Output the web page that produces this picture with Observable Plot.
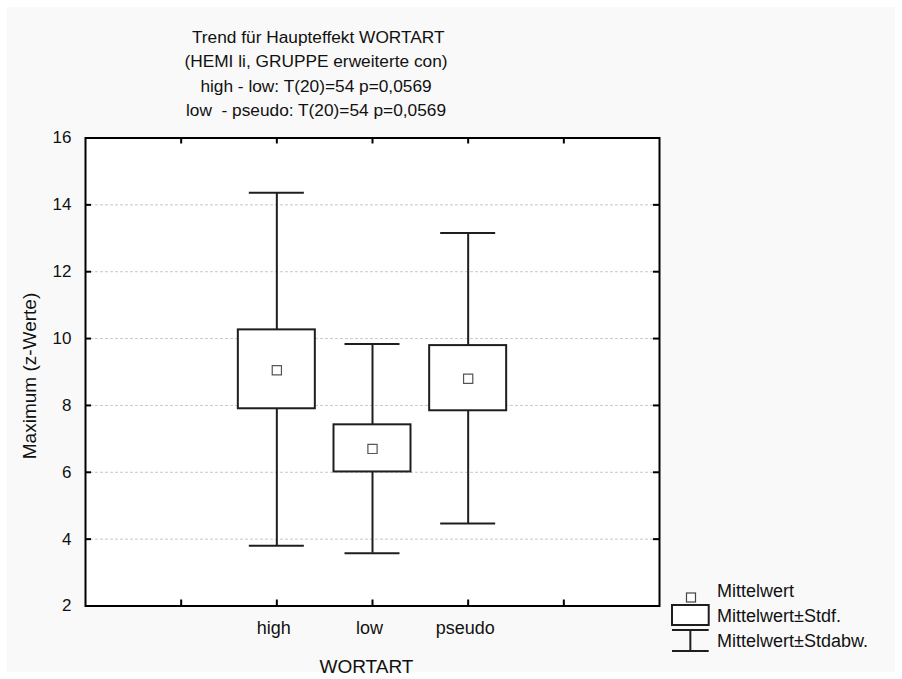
<!DOCTYPE html>
<html>
<head>
<meta charset="utf-8">
<script src="https://cdn.jsdelivr.net/npm/d3@7"></script>
<script src="https://cdn.jsdelivr.net/npm/@observablehq/plot@0.6"></script>
<style>
  html, body { margin: 0; padding: 0; background: #ffffff; }
  #wrap { position: relative; width: 902px; height: 679px; overflow: hidden;
          font-family: "Liberation Sans", Arial, sans-serif; color: #111; }
  #panel { position: absolute; left: 7px; top: 7px; width: 888px; height: 665px; background: #f9f9f9; }
  #chart { position: absolute; left: 0; top: 0; }
  .title { position: absolute; left: 0; width: 632px; text-align: center; font-size: 17.3px; white-space: pre; line-height: 17px; }
  #legend { position: absolute; left: 0; top: 0; }
</style>
</head>
<body>
<div id="wrap">
  <div id="panel"></div>
  <div id="chart"></div>
  <div id="titles"></div>
  <svg id="legend" width="902" height="679"></svg>
</div>
<script>
// ---- data ----
const slots = ["", "", "high", "low", "pseudo", "", ""];
const categories = ["high", "low", "pseudo"];
const means    = [9.05, 6.70, 8.80];
const stdfLow  = [7.90, 6.01, 7.84];
const stdfHigh = [10.26, 7.42, 9.79];
const sdLow    = [3.80, 3.58, 4.47];
const sdHigh   = [14.36, 9.84, 13.16];
const yTicks   = [2, 4, 6, 8, 10, 12, 14, 16];
const xLabel = "WORTART";
const yLabel = "Maximum (z-Werte)";
const titleLines = [
  " Trend für Haupteffekt WORTART",
  "(HEMI li, GRUPPE erweiterte con)",
  "high - low: T(20)=54 p=0,0569",
  "low  - pseudo: T(20)=54 p=0,0569"
];
const legendItems = ["Mittelwert", "Mittelwert±Stdf.", "Mittelwert±Stdabw."];

// ---- build ----
const rows = categories.map((c, i) => ({
  cat: c, pos: slots.indexOf(c), mean: means[i],
  seLo: stdfLow[i], seHi: stdfHigh[i], sdLo: sdLow[i], sdHi: sdHigh[i]
}));
const innerTicks = d3.range(1, slots.length - 1);
const catTicks = rows.map(d => d.pos);

const W = 902, H = 679;
const mL = 85, mR = 243, mT = 137.5, mB = 73.5;
const pw = W - mL - mR, ph = H - mT - mB;
const ink = "#1e1e1e";
const font = "'Liberation Sans', Arial, sans-serif";

const chart = Plot.plot({
  width: W, height: H,
  marginLeft: mL, marginRight: mR, marginTop: mT, marginBottom: mB,
  style: { background: "transparent", fontSize: "17px", fontFamily: font, color: "#111" },
  x: { domain: [0, slots.length - 1] },
  y: { domain: [yTicks[0], yTicks[yTicks.length - 1]] },
  marks: [
    Plot.frame({ fill: "white" }),
    Plot.ruleY(yTicks.slice(1, -1), { stroke: "#c9c9c9", strokeDasharray: "3,2", strokeWidth: 1 }),
    // inward tick marks
    Plot.ruleX(innerTicks, { insetTop: ph - 6, stroke: "black", strokeWidth: 2 }),
    Plot.ruleX(innerTicks, { insetBottom: ph - 6, stroke: "black", strokeWidth: 2 }),
    Plot.ruleY(yTicks, { insetRight: pw - 6, stroke: "black", strokeWidth: 2 }),
    Plot.ruleY(yTicks, { insetLeft: pw - 6, stroke: "black", strokeWidth: 2 }),
    // whiskers
    Plot.ruleX(rows, { x: "pos", y1: "sdLo", y2: "sdHi", stroke: ink, strokeWidth: 2 }),
    Plot.ruleY(rows, { y: "sdLo", x1: "pos", x2: "pos", insetLeft: -27.5, insetRight: -27.5, stroke: ink, strokeWidth: 2 }),
    Plot.ruleY(rows, { y: "sdHi", x1: "pos", x2: "pos", insetLeft: -27.5, insetRight: -27.5, stroke: ink, strokeWidth: 2 }),
    // boxes
    Plot.rect(rows, { x1: "pos", x2: "pos", y1: "seLo", y2: "seHi", insetLeft: -38.5, insetRight: -38.5,
                      fill: "white", stroke: ink, strokeWidth: 2 }),
    // means
    Plot.dot(rows, { x: "pos", y: "mean", symbol: "square", r: 5.2, fill: "white", stroke: "#555", strokeWidth: 1.2 }),
    Plot.frame({ stroke: "black", strokeWidth: 2 }),
    Plot.axisY(yTicks, { tickSize: 0, tickPadding: 14, label: null }),
    Plot.axisX(catTicks, { tickSize: 0, tickPadding: 15, tickFormat: i => slots[i], label: null, dx: -3, fontSize: 18 }),
    Plot.text([yLabel], { text: d => d, frameAnchor: "left", textAnchor: "middle", lineAnchor: "middle",
                          rotate: -90, dx: -56, dy: 4, fontSize: 19, fill: "#111" }),
    Plot.text([xLabel], { text: d => d, frameAnchor: "bottom", textAnchor: "middle", lineAnchor: "middle",
                          dx: -6, dy: 60.5, fontSize: 19, fill: "#111" })
  ]
});
document.getElementById("chart").appendChild(chart);

// titles
const tdiv = document.getElementById("titles");
titleLines.forEach((t, i) => {
  const d = document.createElement("div");
  d.className = "title";
  d.style.top = (29 + i * 24.3) + "px";
  d.textContent = t;
  tdiv.appendChild(d);
});

// legend
const lg = d3.select("#legend");
const lx = 672, lw = 36.7;
lg.append("rect").attr("x", 686.5).attr("y", 593).attr("width", 9).attr("height", 9)
  .attr("fill", "white").attr("stroke", "#444").attr("stroke-width", 1.2);
lg.append("rect").attr("x", lx).attr("y", 605).attr("width", lw).attr("height", 20)
  .attr("fill", "white").attr("stroke", ink).attr("stroke-width", 2);
lg.append("line").attr("x1", lx).attr("x2", lx + lw).attr("y1", 630).attr("y2", 630).attr("stroke", ink).attr("stroke-width", 2);
lg.append("line").attr("x1", lx).attr("x2", lx + lw).attr("y1", 651).attr("y2", 651).attr("stroke", ink).attr("stroke-width", 2);
lg.append("line").attr("x1", lx + lw / 2).attr("x2", lx + lw / 2).attr("y1", 630).attr("y2", 651).attr("stroke", ink).attr("stroke-width", 2);
legendItems.forEach((t, i) => {
  lg.append("text").attr("x", 717).attr("y", 597 + i * 25)
    .attr("font-size", 18).attr("font-family", font).attr("fill", "#111").text(t);
});
</script>
</body>
</html>
